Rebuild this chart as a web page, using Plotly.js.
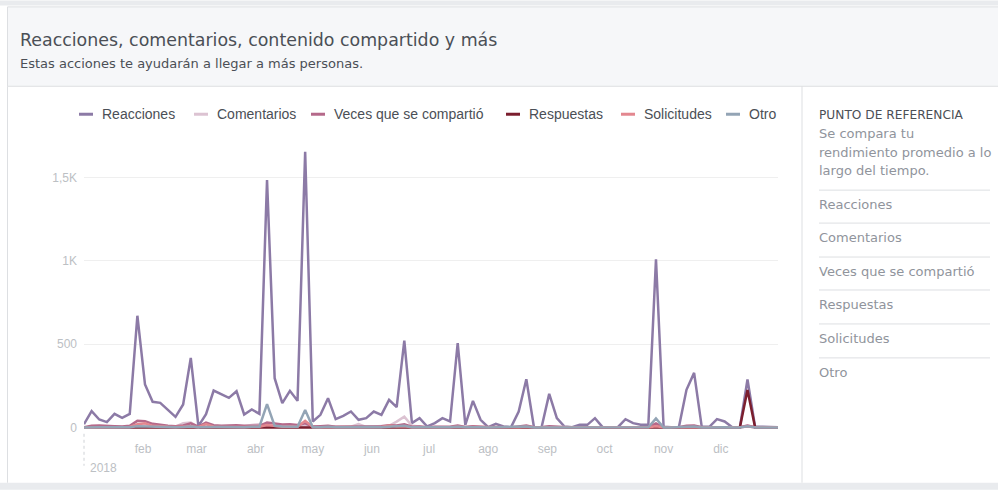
<!DOCTYPE html>
<html>
<head>
<meta charset="utf-8">
<script src="https://cdn.plot.ly/plotly-3.0.1.min.js"></script>
<style>
html,body{margin:0;padding:0;background:#fff;}
#chart{width:998px;height:490px;}
</style>
</head>
<body>
<div id="chart"></div>
<script>
// ---- data ----
const dates = [
 '2018-01-01','2018-01-05','2018-01-09','2018-01-13','2018-01-17','2018-01-21','2018-01-25','2018-01-29',
 '2018-02-02','2018-02-06','2018-02-10','2018-02-14','2018-02-18','2018-02-22','2018-02-26',
 '2018-03-02','2018-03-06','2018-03-10','2018-03-14','2018-03-18','2018-03-22','2018-03-26','2018-03-30',
 '2018-04-03','2018-04-07','2018-04-11','2018-04-15','2018-04-19','2018-04-23','2018-04-27',
 '2018-05-01','2018-05-05','2018-05-09','2018-05-13','2018-05-17','2018-05-21','2018-05-25','2018-05-29',
 '2018-06-02','2018-06-06','2018-06-10','2018-06-14','2018-06-18','2018-06-22','2018-06-26','2018-06-30',
 '2018-07-04','2018-07-08','2018-07-12','2018-07-16','2018-07-20','2018-07-24','2018-07-28',
 '2018-08-01','2018-08-05','2018-08-09','2018-08-13','2018-08-17','2018-08-21','2018-08-25','2018-08-29',
 '2018-09-02','2018-09-06','2018-09-10','2018-09-14','2018-09-18','2018-09-22','2018-09-26','2018-09-30',
 '2018-10-04','2018-10-08','2018-10-12','2018-10-16','2018-10-20','2018-10-24','2018-10-28',
 '2018-11-01','2018-11-05','2018-11-09','2018-11-13','2018-11-17','2018-11-21','2018-11-25','2018-11-29',
 '2018-12-03','2018-12-07','2018-12-11','2018-12-15','2018-12-19','2018-12-23','2018-12-27','2018-12-31'
];
const reacciones = [
 20,98,48,32,82,58,82,671,
 258,154,148,108,64,138,418,
 8,80,222,198,178,218,78,108,
 82,1485,296,146,220,160,1655,
 36,76,176,50,70,96,46,56,
 96,76,166,122,522,26,56,6,
 26,56,36,506,16,160,46,
 2,22,6,2,96,290,2,2,
 202,56,6,2,16,16,56,2,
 4,2,50,26,16,16,1010,
 4,2,2,226,328,4,4,50,
 36,2,2,288,4,4,2,2
];
const comentarios = [
 0,5,8,4,6,3,5,15,
 12,8,6,4,5,25,30,
 2,8,6,5,4,6,8,15,
 20,10,8,6,5,4,10,
 5,4,6,3,4,5,20,4,
 6,5,10,35,65,10,4,2,
 3,4,2,8,2,6,3,
 1,2,1,1,4,8,1,1,
 6,3,1,1,2,2,4,1,
 1,1,3,2,2,2,10,
 1,1,1,6,8,1,1,3,
 2,1,1,10,1,1,1,1
];
const compartido = [
 2,10,12,8,8,6,10,40,
 38,22,15,10,8,12,25,
 5,30,14,10,12,14,10,12,
 10,30,25,18,20,15,25,
 6,8,10,5,6,8,6,6,
 10,8,14,12,20,5,6,2,
 4,6,4,12,3,8,4,
 1,3,1,1,6,12,1,1,
 8,4,1,1,2,2,4,1,
 1,1,4,3,2,2,25,
 1,1,1,10,12,1,1,4,
 3,1,1,12,1,1,1,1
];
const respuestas = [
 0,0,0,0,0,0,0,0,
 0,0,0,0,0,0,0,
 0,0,0,0,0,0,0,0,
 0,0,0,0,0,0,0,
 0,0,0,0,0,0,0,0,
 0,0,0,0,0,0,0,0,
 0,0,0,0,0,0,0,
 0,0,0,0,0,0,0,0,
 0,0,0,0,0,0,0,0,
 0,0,0,0,0,0,0,
 0,0,0,0,0,0,0,0,
 0,0,0,225,0,0,0,0
];
const solicitudes = [
 0,2,3,2,2,2,3,20,
 25,10,6,4,3,5,8,
 2,20,5,4,3,4,3,5,
 5,15,8,5,6,5,40,
 3,2,3,2,2,3,2,2,
 4,3,12,6,8,2,2,1,
 2,2,1,4,1,3,2,
 1,1,1,1,2,5,1,1,
 4,2,1,1,1,1,2,1,
 1,1,2,1,1,1,8,
 1,1,1,4,5,1,1,2,
 1,1,1,6,1,1,1,1
];
const otro = [
 0,2,2,1,2,1,2,8,
 6,4,3,2,2,3,6,
 1,4,3,3,2,3,2,4,
 5,140,10,6,6,5,105,
 2,2,4,1,2,2,2,2,
 3,2,4,6,10,1,2,1,
 1,2,1,5,1,3,1,
 0,1,0,0,2,6,0,0,
 4,2,0,0,1,1,2,0,
 0,0,2,1,1,1,55,
 0,0,0,4,6,0,0,2,
 1,0,0,8,0,0,0,0
];
const seriesNames = ['Reacciones','Comentarios','Veces que se compartió','Respuestas','Solicitudes','Otro'];
const seriesColors = ['#8c7aa6','#dcc3d2','#b5698a','#7b1e2e','#e3878f','#93a4b5'];
const seriesData = [reacciones, comentarios, compartido, respuestas, solicitudes, otro];
const monthTicks = ['2018-02-01','2018-03-01','2018-04-01','2018-05-01','2018-06-01','2018-07-01','2018-08-01','2018-09-01','2018-10-01','2018-11-01','2018-12-01'];
const monthLabels = ['feb','mar','abr','may','jun','jul','ago','sep','oct','nov','dic'];
const yTicks = [0,500,1000,1500];
const yLabels = ['0','500','1K','1,5K'];
const panelItems = ['Reacciones','Comentarios','Veces que se compartió','Respuestas','Solicitudes','Otro'];

// ---- layout geometry (pixels) ----
const W = 998, H = 490;
const L = 84, R = 778, T = 140.8, B = 430.2;
const px = v => (v - L) / (R - L);
const py = v => (B - v) / (B - T);
const legendTextX = [101, 216, 333, 528, 643, 748];
const legendY = 114;

const traces = seriesNames.map((n, i) => ({
  type: 'scatter', mode: 'lines', name: n, x: dates, y: seriesData[i],
  line: {color: seriesColors[i], width: 2.5}, hoverinfo: 'x+y+name', showlegend: false
}));

const FONT = 'Liberation Sans, Arial, Helvetica, sans-serif';
const WIDE = 'DejaVu Sans, Verdana, sans-serif';
const shapes = [
  {type:'rect', xref:'paper', yref:'paper', x0:px(0), x1:px(W), y0:py(0), y1:py(5), fillcolor:'#e9ebee', line:{width:0}, layer:'below'},
  {type:'rect', xref:'paper', yref:'paper', x0:px(0), x1:px(W), y0:py(483), y1:py(H), fillcolor:'#e9ebee', line:{width:0}, layer:'below'},
  {type:'rect', xref:'paper', yref:'paper', x0:px(7.5), x1:px(W+5), y0:py(6.5), y1:py(86), fillcolor:'#f6f7f9', line:{color:'#dddfe2', width:1}, layer:'below'},
  {type:'line', xref:'paper', yref:'paper', x0:px(7.5), x1:px(7.5), y0:py(86), y1:py(483), line:{color:'#dddfe2', width:1}, layer:'below'},
  {type:'line', xref:'paper', yref:'paper', x0:px(802), x1:px(802), y0:py(86), y1:py(483), line:{color:'#dddfe2', width:1}, layer:'below'},
  {type:'line', xref:'paper', yref:'paper', x0:px(84), x1:px(84), y0:py(434), y1:py(466), line:{color:'#cfd2d6', width:1, dash:'dot'}, layer:'below'}
];
const sepY = [190, 223, 257, 290, 324, 358];
sepY.forEach(y => shapes.push({type:'line', xref:'paper', yref:'paper', x0:px(819), x1:px(990), y0:py(y), y1:py(y), line:{color:'#dddfe2', width:1}, layer:'below'}));

const ann = (text, x, y, size, color, family) => ({
  text, xref:'paper', yref:'paper', x:px(x), y:py(y), xanchor:'left', yanchor:'middle',
  showarrow:false, font:{family: family || FONT, size, color}, borderpad:0
});

const annotations = [
  ann('Reacciones, comentarios, contenido compartido y más', 19, 40, 17.4, '#4b4f56', WIDE),
  ann('Estas acciones te ayudarán a llegar a más personas.', 19, 63, 13, '#4b4f56', WIDE),
  ann('2018', 89, 468, 12, '#bcc0c4'),
  ann('PUNTO DE REFERENCIA', 818, 115, 12.2, '#4b4f56', WIDE),
  ann('Se compara tu', 818, 133, 13, '#90949c', WIDE),
  ann('rendimiento promedio a lo', 818, 152, 13, '#90949c', WIDE),
  ann('largo del tiempo.', 818, 170, 13, '#90949c', WIDE)
];
const itemY = [204, 237, 271, 305, 339, 373];
panelItems.forEach((t, i) => annotations.push(ann(t, 818, itemY[i], 13, '#90949c', WIDE)));

// custom legend: short line swatch + label for each series
seriesNames.forEach((n, i) => {
  const tx = legendTextX[i];
  shapes.push({type:'line', xref:'paper', yref:'paper', x0:px(tx - 22), x1:px(tx - 8), y0:py(legendY), y1:py(legendY),
               line:{color: seriesColors[i], width: 3}});
  annotations.push(ann(n, tx, legendY, 14, '#4b4f56'));
});

const layout = {
  width: W, height: H,
  margin: {l: L, r: W - R, t: T, b: H - B, pad: 0},
  paper_bgcolor: '#ffffff', plot_bgcolor: '#ffffff',
  font: {family: FONT, color: '#4b4f56'},
  showlegend: false,
  xaxis: {type:'date', range:['2018-01-01','2018-12-31'], tickvals: monthTicks, ticktext: monthLabels,
          showgrid:false, zeroline:false, showline:false, ticks:'', ticklabelstandoff: 10,
          tickfont:{family:FONT, size:12, color:'#bcc0c4'}, fixedrange:true},
  yaxis: {range:[-15, 1720], tickvals: yTicks, ticktext: yLabels, showgrid:true, gridcolor:'#efefef', gridwidth:1,
          zeroline:false, showline:false, ticks:'', ticklabelstandoff: 6,
          tickfont:{family:FONT, size:12, color:'#bcc0c4'}, fixedrange:true},
  shapes, annotations,
  hovermode: 'x'
};

Plotly.newPlot('chart', traces, layout, {displayModeBar:false, responsive:false});
</script>
</body>
</html>
